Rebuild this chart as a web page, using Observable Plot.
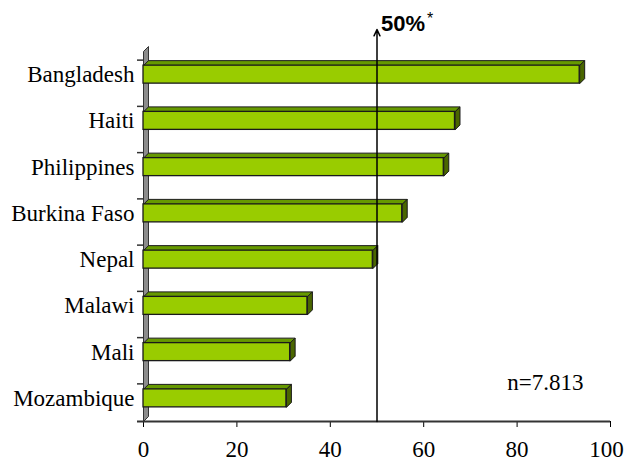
<!DOCTYPE html>
<html>
<head>
<meta charset="utf-8">
<script src="https://cdn.jsdelivr.net/npm/d3@7"></script>
<script src="https://cdn.jsdelivr.net/npm/@observablehq/plot@0.6"></script>
<style>
  body { margin: 0; background: #fff; }
</style>
</head>
<body>
<div id="chart"></div>
<script>
// Share of respondents per country (%)
const countries = ["Bangladesh", "Haiti", "Philippines", "Burkina Faso", "Nepal", "Malawi", "Mali", "Mozambique"];
const shares = [93.4, 66.7, 64.3, 55.4, 49.1, 35.1, 31.4, 30.6];
const xTicks = [0, 20, 40, 60, 80, 100];
const threshold = 50;
const thresholdLabel = "50%";
const thresholdNote = "*";
const sampleLabel = "n=7.813";

// Frame geometry
const width = 626, height = 462;
const margin = {top: 51, right: 16, bottom: 41, left: 143};
const xMax = 100;
const n = countries.length;
const pxPerX = (width - margin.left - margin.right) / xMax;
const pxPerRow = (height - margin.top - margin.bottom) / n;

// Pseudo-3D extrusion, converted from pixels into data units
const depthPx = 5;
const dX = depthPx / pxPerX;
const dY = depthPx / pxPerRow;
const half = 9 / pxPerRow;          // half the front-face height
const tickShift = 14.5 / pxPerRow;  // category ticks sit just above each bar
const tickLen = 6 / pxPerX;

const rows = countries.map((country, i) => ({country, i, value: shares[i]}));

// closed polygon as a list of points, grouped by id
const poly = (id, pts) => pts.concat([pts[0]]).map(([x, y]) => ({id, x, y}));

const wall = poly("wall", [[0, n - 0.5], [dX, n - 0.5 - dY], [dX, -0.5 - dY], [0, -0.5]]);
const topFaces = rows.flatMap(r => poly(r.country, [
  [0, r.i - half], [r.value, r.i - half], [r.value + dX, r.i - half - dY], [dX, r.i - half - dY]
]));
const sideFaces = rows.flatMap(r => poly(r.country, [
  [r.value, r.i - half], [r.value + dX, r.i - half - dY], [r.value + dX, r.i + half - dY], [r.value, r.i + half]
]));
const rowTicks = rows.map(r => r.i - tickShift);

const serif = "Liberation Serif";
const sans = "Liberation Sans";
const textSize = 23;

const chart = Plot.plot({
  width,
  height,
  marginTop: margin.top,
  marginRight: margin.right,
  marginBottom: margin.bottom,
  marginLeft: margin.left,
  style: {color: "#000", background: "#fff", fontFamily: serif, fontSize: textSize + "px"},
  x: {domain: [0, xMax], ticks: xTicks, tickSize: 6, tickPadding: 13, label: null},
  y: {domain: [n - 0.5, -0.5], ticks: rows.map(r => r.i), tickFormat: i => countries[i], tickSize: 0, tickPadding: 9, label: null},
  marks: [
    // side wall
    Plot.line(wall, {x: "x", y: "y", z: "id", fill: "#8c8c8c", stroke: "#333", strokeWidth: 1, strokeMiterlimit: 10}),
    // category ticks and floor line
    Plot.ruleY(rowTicks, {x1: -tickLen, x2: 0, stroke: "#333", strokeWidth: 1.5}),
    Plot.ruleY([n - 0.5], {x1: -tickLen, x2: xMax, stroke: "#333", strokeWidth: 1.8}),
    // bars: top, right side, front
    Plot.line(topFaces, {x: "x", y: "y", z: "id", fill: "#669900", stroke: "#1a1a1a", strokeWidth: 1, strokeMiterlimit: 10}),
    Plot.line(sideFaces, {x: "x", y: "y", z: "id", fill: "#4a6600", stroke: "#1a1a1a", strokeWidth: 1, strokeMiterlimit: 10}),
    Plot.rect(rows, {x1: 0, x2: "value", y1: r => r.i - half, y2: r => r.i + half, fill: "#99cc00", stroke: "#1a1a1a", strokeWidth: 1.3}),
    // 50% reference arrow
    Plot.arrow([threshold], {x1: d => d, x2: d => d, y1: n - 0.5, y2: -0.5 - 22 / pxPerRow, stroke: "#000", strokeWidth: 1.5, headLength: 7, headAngle: 50}),
    Plot.text([threshold], {x: d => d, text: () => thresholdLabel, frameAnchor: "top", lineAnchor: "middle", textAnchor: "start", dx: 4, dy: -28,
      fontFamily: sans, fontWeight: "bold", fontSize: 22, fill: "#000"}),
    Plot.text([threshold], {x: d => d, text: () => thresholdNote, frameAnchor: "top", lineAnchor: "middle", textAnchor: "start", dx: 50, dy: -33,
      fontFamily: sans, fontSize: 16, fill: "#000"}),
    // sample size
    Plot.text([sampleLabel], {text: d => d, frameAnchor: "bottom-right", lineAnchor: "middle", textAnchor: "end", dx: -27, dy: -39,
      fontFamily: serif, fontSize: textSize, fill: "#000"})
  ]
});

// serif lettering for axes and notes; sans for the reference label
const lastTick = String(xTicks[xTicks.length - 1]);
d3.select(chart).selectAll("text").each(function() {
  const t = this.textContent;
  if (t === thresholdLabel || t === thresholdNote) return;
  this.setAttribute("font-family", serif);
  this.setAttribute("font-size", textSize);
  // keep the rightmost axis label inside the frame
  if (t === lastTick) this.setAttribute("dx", -4);
});

document.getElementById("chart").append(chart);
</script>
</body>
</html>
